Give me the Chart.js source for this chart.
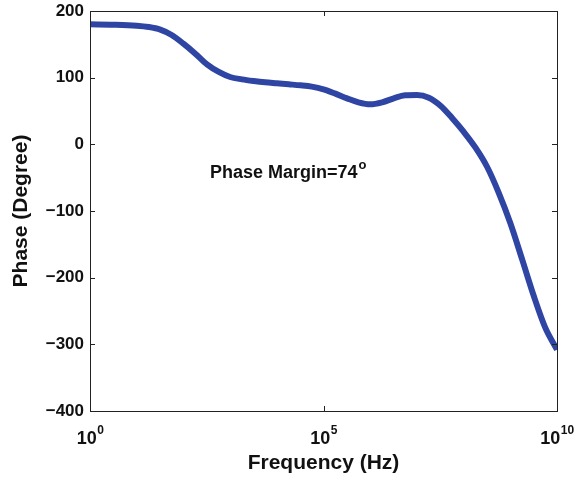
<!DOCTYPE html>
<html>
<head>
<meta charset="utf-8">
<script src="https://cdn.jsdelivr.net/npm/chart.js@4.4.1/dist/chart.umd.min.js"></script>
<style>
  html, body { margin: 0; padding: 0; background: #fff; }
  #wrap { width: 577px; height: 480px; }
</style>
</head>
<body>
<div id="wrap"><canvas id="phasePlot" width="577" height="480"></canvas></div>
<script>
// frequency points (Hz) and phase (deg)
const freqHz = [
  1e0, 3.2e0, 1e1, 1.8e1, 3.2e1, 5.6e1,
  1e2, 1.8e2, 3.2e2, 5.6e2,
  1e3, 1.8e3, 3.2e3, 5.6e3,
  1e4, 1.8e4, 3.2e4, 5.6e4,
  1e5, 1.8e5, 3.2e5, 5.6e5,
  1e6, 1.8e6, 3.2e6, 5.6e6,
  1e7, 1.8e7, 3.2e7, 5.6e7,
  1e8, 1.8e8, 3.2e8, 5.6e8,
  1e9, 1.8e9, 3.2e9, 5.6e9,
  1e10
];
const phaseDeg = [
  180, 179.5, 178, 176, 172, 164,
  151, 136, 120, 109,
  101, 97.5, 95, 93,
  91.5, 90, 88.5, 86.5,
  82.5, 76, 69, 63,
  60, 63, 69, 73.5,
  74, 70, 58, 40,
  19, -5, -34, -72,
  -118, -173, -228, -275,
  -308
];

const xTickValues = [1e0, 1e5, 1e10];
const xTickExponents = ['0', '5', '10'];
const yMin = -400, yMax = 200, yStep = 100;

const noteText = 'Phase Margin=74';
const noteSup = 'o';
const noteAt = { x: 370, y: -50 };

const FONT = '"Liberation Sans", Arial, Helvetica, sans-serif';
const INK = '#111';

// box, inward ticks, decade labels and the margin note
const matlabAxes = {
  id: 'matlabAxes',
  afterDraw(chart) {
    const { ctx, chartArea: a, scales: { x, y } } = chart;
    const tick = 5;
    ctx.save();
    ctx.strokeStyle = '#222';
    ctx.lineWidth = 1;
    ctx.strokeRect(Math.round(a.left) + 0.5, Math.round(a.top) + 0.5,
      Math.round(a.right - a.left), Math.round(a.bottom - a.top));

    ctx.beginPath();
    for (let v = yMin; v <= yMax; v += yStep) {
      const py = Math.round(y.getPixelForValue(v)) + 0.5;
      ctx.moveTo(a.left, py); ctx.lineTo(a.left + tick, py);
      ctx.moveTo(a.right, py); ctx.lineTo(a.right - tick, py);
    }
    xTickValues.forEach(v => {
      const px = Math.round(x.getPixelForValue(v)) + 0.5;
      ctx.moveTo(px, a.bottom); ctx.lineTo(px, a.bottom - tick);
      ctx.moveTo(px, a.top); ctx.lineTo(px, a.top + tick);
    });
    ctx.stroke();

    // 10^n labels under the axis
    ctx.fillStyle = INK;
    ctx.textBaseline = 'alphabetic';
    ctx.textAlign = 'left';
    xTickValues.forEach((v, i) => {
      const px = x.getPixelForValue(v);
      ctx.font = `bold 18px ${FONT}`;
      const wBase = ctx.measureText('10').width;
      ctx.font = `bold 12px ${FONT}`;
      const wExp = ctx.measureText(xTickExponents[i]).width;
      const left = px - (wBase + wExp) / 2;
      const base = a.bottom + 33;
      ctx.font = `bold 18px ${FONT}`;
      ctx.fillText('10', left, base);
      ctx.font = `bold 12px ${FONT}`;
      ctx.fillText(xTickExponents[i], left + wBase + 0.5, base - 10);
    });

    // phase margin note
    const nx = x.getPixelForValue(noteAt.x);
    const ny = y.getPixelForValue(noteAt.y);
    ctx.font = `bold 18px ${FONT}`;
    ctx.fillText(noteText, nx, ny);
    const w = ctx.measureText(noteText).width;
    ctx.font = `bold 13px ${FONT}`;
    ctx.fillText(noteSup, nx + w + 1, ny - 9);
    ctx.restore();
  }
};

new Chart(document.getElementById('phasePlot'), {
  type: 'line',
  data: {
    datasets: [{
      data: freqHz.map((f, i) => ({ x: f, y: phaseDeg[i] })),
      borderColor: '#2f45a4',
      borderWidth: 6,
      pointRadius: 0,
      fill: false,
      cubicInterpolationMode: 'monotone',
      borderCapStyle: 'butt'
    }]
  },
  options: {
    responsive: false,
    animation: false,
    layout: { padding: { top: 11, right: 20, left: 0, bottom: 0 } },
    plugins: { legend: { display: false }, tooltip: { enabled: false } },
    scales: {
      x: {
        type: 'logarithmic',
        min: 1, max: 1e10,
        afterBuildTicks: s => { s.ticks = xTickValues.map(v => ({ value: v })); },
        afterFit: s => { s.height = 69; s.paddingLeft = 0; s.paddingRight = 0; },
        grid: { display: false },
        border: { display: false },
        ticks: { display: false },
        title: {
          display: true,
          text: 'Frequency (Hz)',
          color: INK,
          font: { family: FONT, size: 21, weight: 'bold' },
          padding: { top: 0, bottom: 4 }
        }
      },
      y: {
        min: yMin, max: yMax,
        afterFit: s => { s.width = 90; s.paddingTop = 0; s.paddingBottom = 0; },
        grid: { display: false, drawTicks: false },
        border: { display: false },
        ticks: {
          stepSize: yStep,
          padding: 6,
          color: INK,
          font: { family: FONT, size: 17, weight: 'bold' },
          callback: v => String(v).replace('-', '\u2212')
        },
        title: {
          display: true,
          text: 'Phase (Degree)',
          color: INK,
          font: { family: FONT, size: 21, weight: 'bold' },
          padding: { top: 9, bottom: 0 }
        }
      }
    }
  },
  plugins: [matlabAxes]
});
</script>
</body>
</html>
